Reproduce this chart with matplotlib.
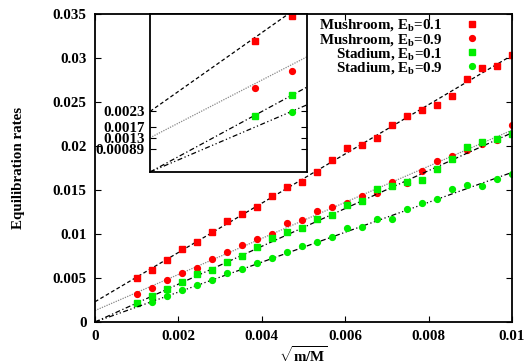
import numpy as np
import matplotlib
matplotlib.use("Agg")
import matplotlib.pyplot as plt

plt.rcParams['font.family'] = ['Liberation Serif', 'DejaVu Serif']
plt.rcParams['font.weight'] = 'bold'
plt.rcParams['mathtext.fontset'] = 'custom'
plt.rcParams['mathtext.rm'] = 'Liberation Serif:bold'
plt.rcParams['mathtext.bf'] = 'Liberation Serif:bold'
plt.rcParams['mathtext.it'] = 'Liberation Serif:bold:italic'

# x positions (sqrt(m/M))
x_all = [0.00100, 0.00136, 0.00172, 0.00208, 0.00244, 0.00280, 0.00316, 0.00352,
         0.00388, 0.00424, 0.00460, 0.00496, 0.00532, 0.00568, 0.00604, 0.00640,
         0.00676, 0.00712, 0.00748, 0.00784, 0.00820, 0.00856, 0.00892, 0.00928,
         0.00964, 0.01000]

mush_01 = [0.00497, 0.00591, 0.00701, 0.00833, 0.00906, 0.01019, 0.01144, 0.01224,
           0.01303, 0.01428, 0.01531, 0.01588, 0.01701, 0.01837, 0.01974, 0.02011,
           0.02088, 0.02235, 0.02338, 0.02406, 0.02463, 0.02565, 0.02758, 0.02886,
           0.02909, 0.03031]
mush_09 = [0.00318, 0.00383, 0.00477, 0.00560, 0.00617, 0.00719, 0.00792, 0.00872,
           0.00943, 0.01003, 0.01125, 0.01156, 0.01265, 0.01307, 0.01356, 0.01428,
           0.01469, 0.01591, 0.01580, 0.01716, 0.01833, 0.01886, 0.01960, 0.02023,
           0.02065, 0.02239]
stad_01 = [0.00212, 0.00292, 0.00371, 0.00451, 0.00549, 0.00588, 0.00678, 0.00747,
           0.00849, 0.00951, 0.01019, 0.01065, 0.01170, 0.01216, 0.01326, 0.01372,
           0.01508, 0.01542, 0.01594, 0.01610, 0.01735, 0.01852, 0.01985, 0.02042,
           0.02083, 0.02133]
x_stad09 = x_all[1:]
stad_09 = [0.00227, 0.00295, 0.00364, 0.00417, 0.00481, 0.00553, 0.00606, 0.00674,
           0.00727, 0.00792, 0.00864, 0.00906, 0.00966, 0.01068, 0.01083, 0.01167,
           0.01174, 0.01284, 0.01349, 0.01398, 0.01511, 0.01553, 0.01549, 0.01622,
           0.01678]

# linear fits: intercept, slope
fit_intercepts = [0.0023, 0.0013, 0.0, 0.0]
fit_slopes = [2.80, 2.05, 2.15, 1.70]
fit_styles = [dict(color='black', ls=(0, (3, 2))),
              dict(color='#888888', ls=(0, (1, 1))),
              dict(color='black', ls=(0, (4, 2, 1, 2))),
              dict(color='black', ls=(0, (4, 2, 1, 2, 1, 2)))]

labels = ['Mushroom, E$_\\mathrm{b}$=0.1', 'Mushroom, E$_\\mathrm{b}$=0.9',
          'Stadium, E$_\\mathrm{b}$=0.1', 'Stadium, E$_\\mathrm{b}$=0.9']
inset_yticks = [0.00089, 0.0013, 0.0017, 0.0023]
inset_yticklabels = ['0.00089', '0.0013', '0.0017', '0.0023']

series = [(x_all, mush_01, 's', '#ff0000', 5.0),
          (x_all, mush_09, 'o', '#ff0000', 4.2),
          (x_all, stad_01, 's', '#00ee00', 5.0),
          (x_stad09, stad_09, 'o', '#00ee00', 4.2)]

FS = 10.8

fig = plt.figure(figsize=(5.25, 3.64), dpi=100)
ax = fig.add_axes([95/525, 1-322/364, 417/525, 308/364])
xl = np.array([0.0, 0.01])

handles = []
for (xs, ys, m, c, ms), a, b, st, lab in zip(series, fit_intercepts, fit_slopes, fit_styles, labels):
    ax.plot(xl, a + b*xl, lw=0.9, **st)
    h, = ax.plot(xs, ys, ls='none', marker=m, color=c, ms=ms, mec=c, label=lab)
    handles.append(h)

ax.set_xlim(0, 0.01)
ax.set_ylim(0, 0.035)
ax.set_xticks([0, 0.002, 0.004, 0.006, 0.008, 0.01])
ax.set_xticklabels(['0', '0.002', '0.004', '0.006', '0.008', '0.01'])
ax.set_yticks([0, 0.005, 0.01, 0.015, 0.02, 0.025, 0.03, 0.035])
ax.set_yticklabels(['0', '0.005', '0.01', '0.015', '0.02', '0.025', '0.03', '0.035'])
ax.tick_params(direction='in', top=True, right=True, length=4, width=0.8,
               labelsize=FS, pad=6)
for s in ax.spines.values():
    s.set_linewidth(1.3)
ax.set_ylabel('Equilibration rates', fontsize=FS, fontweight='bold', labelpad=20)
ax.set_xlabel('$\\sqrt{\\mathrm{m/M}}$', fontsize=FS, labelpad=1)

leg = ax.legend(handles=handles, loc='upper right', bbox_to_anchor=(0.916, 0.989),
                frameon=False, markerfirst=False, handlelength=0.7,
                handletextpad=1.6, labelspacing=-0.12, borderaxespad=0,
                borderpad=0, prop={'size': FS, 'weight': 'bold'})

# inset
axi = fig.add_axes([150/525, 1-172/364, 157/525, 158/364])
xi = np.array([0.0, 0.0015])
for (xs, ys, m, c, ms), a, b, st in zip(series, fit_intercepts, fit_slopes, fit_styles):
    axi.plot(xi, a + b*xi, lw=0.9, **st)
    axi.plot(xs, ys, ls='none', marker=m, color=c, ms=ms, mec=c)
axi.set_xlim(0, 0.0015)
axi.set_ylim(0, 0.006)
axi.set_xticks([])
axi.set_yticks(inset_yticks)
axi.set_yticklabels(inset_yticklabels)
axi.tick_params(axis='y', direction='in', right=True, length=4, width=0.8,
                labelsize=FS, pad=4)
for s in axi.spines.values():
    s.set_linewidth(1.3)

fig.savefig('out.png', dpi=100)
